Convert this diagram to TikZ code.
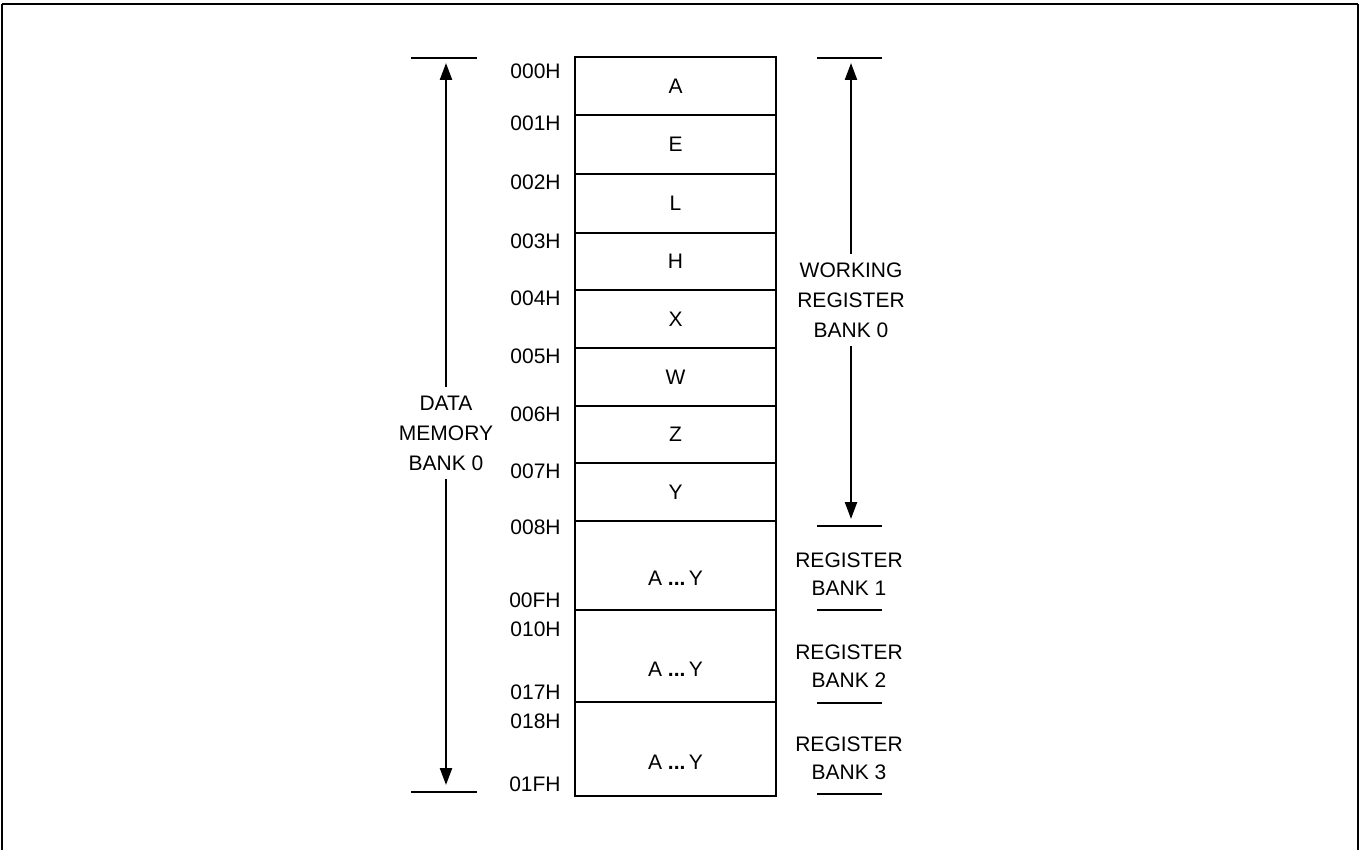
\documentclass[tikz,border=0pt]{standalone}
\usepackage{fontspec}
\setmainfont{Liberation Sans}
\usepackage{tikz}
\usetikzlibrary{positioning,arrows.meta,calc}

\begin{document}
\begin{tikzpicture}[
    x=0.5pt, y=-0.5pt,
    font=\fontsize{10.5pt}{15pt}\selectfont,
    cell/.style  = {draw, line width=1.25pt, minimum width=100.5pt, inner sep=0pt},
    addr/.style  = {anchor=east, inner sep=0pt},
    lbl/.style   = {align=center, inner sep=4pt},
    bnk/.style   = {align=center, inner sep=0pt,
                    font=\fontsize{10.5pt}{14pt}\selectfont},
    bar/.style   = {line width=1.2pt},
    arr/.style   = {-{Triangle[length=8.5pt, width=6pt]}, line width=1.15pt},
]
\useasboundingbox (0,0) rectangle (1360,850);

%% ── Frame ────────────────────────────────────────────────────────────────
\draw[line width=1.4pt] (2,4) -- (1358,4);
\draw[line width=0.7pt] (2,850) -- (2,4) (1358,4) -- (1358,850);

%% ── Working register bank 0 cells ────────────────────────────────────────
\node[cell, minimum height=29pt]   (rA) at (675.5, 86)    {A};
\node[cell, minimum height=29.5pt] (rE) at (675.5, 144.5) {E};
\node[cell, minimum height=29.5pt] (rL) at (675.5, 203.5) {L};
\node[cell, minimum height=28.5pt] (rH) at (675.5, 261.5) {H};
\node[cell, minimum height=29pt]   (rX) at (675.5, 319)   {X};
\node[cell, minimum height=29pt]   (rW) at (675.5, 377)   {W};
\node[cell, minimum height=28.5pt] (rZ) at (675.5, 434.5) {Z};
\node[cell, minimum height=29pt]   (rY) at (675.5, 492)   {Y};

%% ── Register banks 1-3 ───────────────────────────────────────────────────
\node[cell, minimum height=44.5pt] (b1) at (675.5, 565.5) {};
\node[at=(b1.center), yshift=-6.5pt] (t1) {A \textbf{...}\,Y};
\node[cell, minimum height=46pt]   (b2) at (675.5, 656)   {};
\node[at=(b2.center), yshift=-6.5pt] (t2) {A \textbf{...}\,Y};
\node[cell, minimum height=47pt]   (b3) at (675.5, 749)   {};
\node[at=(b3.center), yshift=-6.5pt] (t3) {A \textbf{...}\,Y};

%% ── Addresses ────────────────────────────────────────────────────────────
\node[addr] (a000) at (561, 71)  {000H};
\node[addr] (a001) at (561, 123) {001H};
\node[addr] (a002) at (561, 182) {002H};
\node[addr] (a003) at (561, 241) {003H};
\node[addr] (a004) at (561, 298) {004H};
\node[addr] (a005) at (561, 356) {005H};
\node[addr] (a006) at (561, 414) {006H};
\node[addr] (a007) at (561, 471) {007H};
\node[addr] (a008) at (561, 527) {008H};
\node[addr] (a00F) at (561, 600) {00FH};
\node[addr] (a010) at (561, 629) {010H};
\node[addr] (a017) at (561, 692) {017H};
\node[addr] (a018) at (561, 721) {018H};
\node[addr] (a01F) at (561, 784) {01FH};

%% ── Data memory bank 0 ───────────────────────────────────────────────────
\coordinate (dmT) at (446, 58);
\coordinate (dmB) at (446, 792);
\draw[bar] (411, 58) -- (477, 58);
\draw[bar] (411, 792) -- (477, 792);
\node[lbl] (dm) at (446, 433) {DATA\\MEMORY\\BANK 0};
\draw[arr, shorten >=2.5pt] (dm.north) -- (dmT);
\draw[arr, shorten >=3.5pt] (dm.south) -- (dmB);

%% ── Working register bank 0 ──────────────────────────────────────────────
\coordinate (wrT) at (851, 58);
\coordinate (wrB) at (851, 526);
\draw[bar] (817, 58) -- (882, 58);
\draw[bar] (817, 526) -- (882, 526);
\node[lbl] (wr) at (851, 300) {WORKING\\REGISTER\\BANK 0};
\draw[arr, shorten >=2.5pt] (wr.north) -- (wrT);
\draw[arr, shorten >=3.5pt] (wr.south) -- (wrB);

%% ── Register bank labels ─────────────────────────────────────────────────
\node[bnk] (rb1) at (849, 574)   {REGISTER\\BANK 1};
\draw[bar] (817, 610) -- (882, 610);
\node[bnk] (rb2) at (849, 666.5) {REGISTER\\BANK 2};
\draw[bar] (817, 703) -- (882, 703);
\node[bnk] (rb3) at (849, 758)   {REGISTER\\BANK 3};
\draw[bar] (817, 794) -- (882, 794);

\end{tikzpicture}
\end{document}
